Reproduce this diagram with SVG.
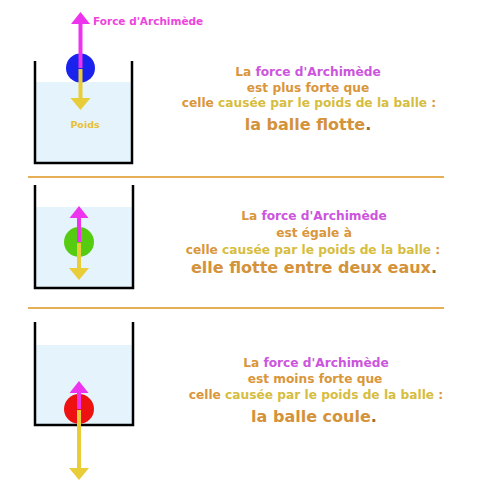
<svg xmlns="http://www.w3.org/2000/svg" width="500" height="500" viewBox="0 0 500 500">
<style>
.water{fill:#e4f3fc}
.wall{fill:none;stroke:#000;stroke-width:2.5}
.sep{stroke:#e6ae55;stroke-width:2}
.up{stroke:#ee33ee;stroke-width:4}
.dn{stroke:#e8cc38;stroke-width:4}
.uph{fill:#ee33ee}
.dnh{fill:#e8cc38}
text{font-family:"DejaVu Sans","Liberation Sans",sans-serif;font-weight:bold;text-anchor:middle}
.t{font-size:12.2px;fill:#d9963a}
.big{font-size:16px;fill:#d4923a}
.v{fill:#cc55dd}
.y{fill:#d6bd40}
.dot{fill:#9a7030}
</style>
<rect width="500" height="500" fill="#fff"/>
<g id="separators">
<line class="sep" x1="28" y1="177" x2="444" y2="177"/>
<line class="sep" x1="28" y1="308" x2="444" y2="308"/>
</g>
<g id="panel1">
<rect class="water" x="36" y="82" width="96" height="81"/>
<path class="wall" d="M35,61 V163 H132 V61"/>
<circle cx="80.5" cy="68" r="14.5" fill="#1a22ee"/>
<line class="up" x1="80.5" y1="68" x2="80.5" y2="23"/>
<polygon class="uph" points="71,24 90,24 80.5,12"/>
<line class="dn" x1="80.5" y1="69" x2="80.5" y2="99"/>
<polygon class="dnh" points="70.5,98 90.5,98 80.5,110"/>
<text x="93" y="25" style="font-size:10.5px;fill:#ee44dd;text-anchor:start">Force d'Archimède</text>
<text x="85" y="128" style="font-size:9.5px;fill:#e8c030">Poids</text>
<text class="t" x="308" y="76">La <tspan class="v">force d'Archimède</tspan></text>
<text class="t" x="308" y="92">est plus forte que</text>
<text class="t" x="309" y="107">celle <tspan class="y">causée par le poids de la balle</tspan> :</text>
<text class="big" x="308" y="130">la balle flotte<tspan class="dot">.</tspan></text>
</g>
<g id="panel2">
<rect class="water" x="36" y="207" width="97" height="81"/>
<path class="wall" d="M35,185 V288 H133 V185"/>
<circle cx="79" cy="242" r="15" fill="#55cc11"/>
<line class="up" x1="79" y1="242" x2="79" y2="217"/>
<polygon class="uph" points="69.5,218 88.5,218 79,206"/>
<line class="dn" x1="79" y1="243" x2="79" y2="269"/>
<polygon class="dnh" points="69,268 89,268 79,280"/>
<text class="t" x="314" y="220">La <tspan class="v">force d'Archimède</tspan></text>
<text class="t" x="314" y="237">est égale à</text>
<text class="t" x="313" y="254">celle <tspan class="y">causée par le poids de la balle</tspan> :</text>
<text class="big" x="314" y="273">elle flotte entre deux eaux<tspan class="dot">.</tspan></text>
</g>
<g id="panel3">
<rect class="water" x="36" y="345" width="97" height="80"/>
<path class="wall" d="M35,322 V425 H133 V322"/>
<circle cx="79" cy="409" r="15" fill="#ee1111"/>
<line class="up" x1="79" y1="409" x2="79" y2="392"/>
<polygon class="uph" points="69.5,393 88.5,393 79,381"/>
<line class="dn" x1="79" y1="410" x2="79" y2="469"/>
<polygon class="dnh" points="69,468 89,468 79,480"/>
<text class="t" x="316" y="367">La <tspan class="v">force d'Archimède</tspan></text>
<text class="t" x="315" y="383">est moins forte que</text>
<text class="t" x="316" y="399">celle <tspan class="y">causée par le poids de la balle</tspan> :</text>
<text class="big" x="314" y="422">la balle coule<tspan class="dot">.</tspan></text>
</g>
</svg>
